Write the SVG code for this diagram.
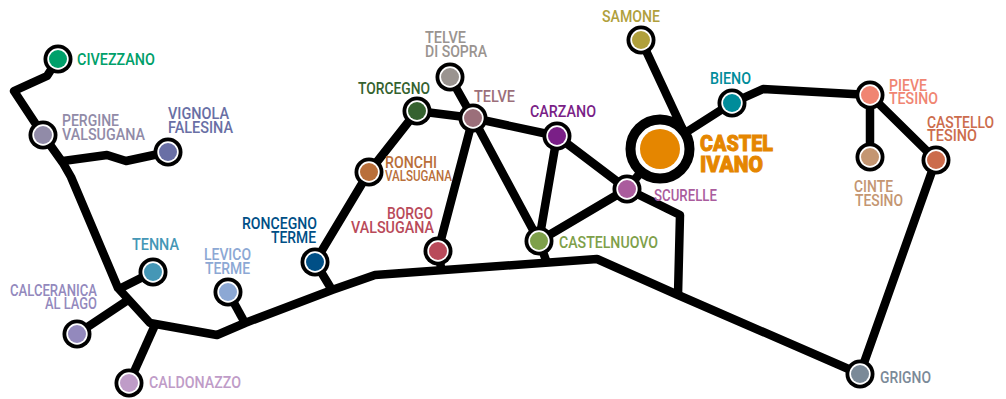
<svg xmlns="http://www.w3.org/2000/svg" width="1006" height="399" viewBox="0 0 1006 399">
<style>
text{font-family:Roboto,"Liberation Sans",sans-serif;font-size:16.4px;font-weight:500}
.l{fill:none;stroke:#000;stroke-width:8.5;stroke-linejoin:round}
.o{fill:#000}.w{fill:#fff}
</style>
<rect width="1006" height="399" fill="#fff"/>
<g id="connectors" class="l">
<path d="M58 59L47 76L14 91L43 135L63 163L71 177L118 288L150 323L217 335L245 323L332 290L375 275L597 259L678 295L860 374L936 160L870 95L763 89L732 103L660 149"/>
<path d="M63 161L107 155L126 161L168 152"/>
<path d="M153 272L119 289"/>
<path d="M77 334L128 300"/>
<path d="M129 383L155 325"/>
<path d="M228 292L245 323"/>
<path d="M332 290L315 262L369 172L417 111L473 118L557 136L627 189L539 241L473 118"/>
<path d="M450 77L473 118L438 251L442 273"/>
<path d="M557 136L539 241L547 263"/>
<path d="M627 189L680 215L678 295"/>
<path d="M641 40L690 145"/>
<path d="M660 149L627 189"/>
<path d="M870 95L870 157"/>
</g>
<g id="castel-ivano"><circle cx="660" cy="149" r="29.5" fill="#fff" stroke="#000" stroke-width="10"/><circle cx="660" cy="149" r="20" fill="#e58600"/><g fill="#e58600" stroke="#e58600" stroke-width="0.9"><text x="700" y="151" textLength="73" lengthAdjust="spacingAndGlyphs" style="font-size:22.5px;font-weight:900">CASTEL</text><text x="700" y="172" textLength="63" lengthAdjust="spacingAndGlyphs" style="font-size:22.5px;font-weight:900">IVANO</text></g></g>
<g id="civezzano"><circle class="o" cx="58" cy="59" r="14.5"/><circle class="w" cx="58" cy="59" r="10.7"/><circle cx="58" cy="59" r="9" fill="#00a06a"/><text fill="#00a06a" x="77" y="65" textLength="78" lengthAdjust="spacingAndGlyphs">CIVEZZANO</text></g>
<g id="pergine"><circle class="o" cx="43" cy="135" r="14.5"/><circle class="w" cx="43" cy="135" r="10.7"/><circle cx="43" cy="135" r="9" fill="#918ba8"/><g fill="#918ba8"><text x="62" y="126" textLength="57" lengthAdjust="spacingAndGlyphs">PERGINE</text><text x="62" y="139.5" textLength="83" lengthAdjust="spacingAndGlyphs">VALSUGANA</text></g></g>
<g id="vignola"><circle class="o" cx="168" cy="152" r="14.5"/><circle class="w" cx="168" cy="152" r="10.7"/><circle cx="168" cy="152" r="9" fill="#696fa5"/><g fill="#696fa5"><text x="168" y="119" textLength="61" lengthAdjust="spacingAndGlyphs">VIGNOLA</text><text x="168" y="133" textLength="65" lengthAdjust="spacingAndGlyphs">FALESINA</text></g></g>
<g id="tenna"><circle class="o" cx="153" cy="272" r="14.5"/><circle class="w" cx="153" cy="272" r="10.7"/><circle cx="153" cy="272" r="9" fill="#4597b6"/><text fill="#4597b6" x="132" y="250" textLength="47" lengthAdjust="spacingAndGlyphs">TENNA</text></g>
<g id="levico"><circle class="o" cx="228" cy="292" r="14.5"/><circle class="w" cx="228" cy="292" r="10.7"/><circle cx="228" cy="292" r="9" fill="#8ca8d4"/><g fill="#8ca8d4"><text x="204" y="260" textLength="47" lengthAdjust="spacingAndGlyphs">LEVICO</text><text x="205" y="274" textLength="45" lengthAdjust="spacingAndGlyphs">TERME</text></g></g>
<g id="roncegno"><circle class="o" cx="315" cy="262" r="14.5"/><circle class="w" cx="315" cy="262" r="10.7"/><circle cx="315" cy="262" r="9" fill="#004f86"/><g fill="#004f86"><text x="242" y="229" textLength="75" lengthAdjust="spacingAndGlyphs">RONCEGNO</text><text x="271" y="243" textLength="45" lengthAdjust="spacingAndGlyphs">TERME</text></g></g>
<g id="calceranica"><circle class="o" cx="77" cy="334" r="14.5"/><circle class="w" cx="77" cy="334" r="10.7"/><circle cx="77" cy="334" r="9" fill="#9389bd"/><g fill="#9389bd"><text x="10" y="296" textLength="87" lengthAdjust="spacingAndGlyphs">CALCERANICA</text><text x="45" y="309" textLength="52" lengthAdjust="spacingAndGlyphs">AL LAGO</text></g></g>
<g id="caldonazzo"><circle class="o" cx="129" cy="383" r="14.5"/><circle class="w" cx="129" cy="383" r="10.7"/><circle cx="129" cy="383" r="9" fill="#bf9cc8"/><text fill="#bf9cc8" x="149" y="388" textLength="92" lengthAdjust="spacingAndGlyphs">CALDONAZZO</text></g>
<g id="ronchi"><circle class="o" cx="369" cy="172" r="14.5"/><circle class="w" cx="369" cy="172" r="10.7"/><circle cx="369" cy="172" r="9" fill="#b96f3a"/><g fill="#b96f3a"><text x="385" y="168" textLength="52" lengthAdjust="spacingAndGlyphs">RONCHI</text><text x="385" y="181" textLength="67" lengthAdjust="spacingAndGlyphs" style="font-size:15px">VALSUGANA</text></g></g>
<g id="torcegno"><circle class="o" cx="417" cy="111" r="14.5"/><circle class="w" cx="417" cy="111" r="10.7"/><circle cx="417" cy="111" r="9" fill="#35622f"/><text fill="#35622f" x="358" y="94" textLength="72" lengthAdjust="spacingAndGlyphs">TORCEGNO</text></g>
<g id="telve-di-sopra"><circle class="o" cx="450" cy="77" r="14.5"/><circle class="w" cx="450" cy="77" r="10.7"/><circle cx="450" cy="77" r="9" fill="#9a9490"/><g fill="#9a9490"><text x="425" y="43" textLength="41" lengthAdjust="spacingAndGlyphs">TELVE</text><text x="425" y="57" textLength="62" lengthAdjust="spacingAndGlyphs">DI SOPRA</text></g></g>
<g id="telve"><circle class="o" cx="473" cy="118" r="14.5"/><circle class="w" cx="473" cy="118" r="10.7"/><circle cx="473" cy="118" r="9" fill="#9b6f7a"/><text fill="#9b6f7a" x="474" y="102" textLength="41" lengthAdjust="spacingAndGlyphs">TELVE</text></g>
<g id="carzano"><circle class="o" cx="557" cy="136" r="14.5"/><circle class="w" cx="557" cy="136" r="10.7"/><circle cx="557" cy="136" r="9" fill="#7a1f87"/><text fill="#7a1f87" x="530" y="117" textLength="66" lengthAdjust="spacingAndGlyphs">CARZANO</text></g>
<g id="borgo"><circle class="o" cx="438" cy="251" r="14.5"/><circle class="w" cx="438" cy="251" r="10.7"/><circle cx="438" cy="251" r="9" fill="#b94a5a"/><g fill="#b94a5a"><text x="387" y="219" textLength="46" lengthAdjust="spacingAndGlyphs">BORGO</text><text x="351" y="233" textLength="83" lengthAdjust="spacingAndGlyphs">VALSUGANA</text></g></g>
<g id="castelnuovo"><circle class="o" cx="539" cy="241" r="14.5"/><circle class="w" cx="539" cy="241" r="10.7"/><circle cx="539" cy="241" r="9" fill="#7ea04a"/><text fill="#7ea04a" x="559" y="248" textLength="99" lengthAdjust="spacingAndGlyphs">CASTELNUOVO</text></g>
<g id="scurelle"><circle class="o" cx="627" cy="189" r="14.5"/><circle class="w" cx="627" cy="189" r="10.7"/><circle cx="627" cy="189" r="9" fill="#aa5c9d"/><text fill="#aa5c9d" x="654" y="201" textLength="63" lengthAdjust="spacingAndGlyphs">SCURELLE</text></g>
<g id="samone"><circle class="o" cx="641" cy="40" r="14.5"/><circle class="w" cx="641" cy="40" r="10.7"/><circle cx="641" cy="40" r="9" fill="#b0a03c"/><text fill="#b0a03c" x="602" y="22" textLength="58" lengthAdjust="spacingAndGlyphs">SAMONE</text></g>
<g id="bieno"><circle class="o" cx="732" cy="103" r="14.5"/><circle class="w" cx="732" cy="103" r="10.7"/><circle cx="732" cy="103" r="9" fill="#008c9a"/><text fill="#008c9a" x="710" y="84" textLength="41" lengthAdjust="spacingAndGlyphs">BIENO</text></g>
<g id="pieve"><circle class="o" cx="870" cy="95" r="14.5"/><circle class="w" cx="870" cy="95" r="10.7"/><circle cx="870" cy="95" r="9" fill="#f08572"/><g fill="#f08572"><text x="889" y="91" textLength="38" lengthAdjust="spacingAndGlyphs">PIEVE</text><text x="889" y="104" textLength="49" lengthAdjust="spacingAndGlyphs">TESINO</text></g></g>
<g id="cinte"><circle class="o" cx="870" cy="157" r="14.5"/><circle class="w" cx="870" cy="157" r="10.7"/><circle cx="870" cy="157" r="9" fill="#c49672"/><g fill="#c49672"><text x="854" y="192" textLength="39" lengthAdjust="spacingAndGlyphs">CINTE</text><text x="855" y="206" textLength="48" lengthAdjust="spacingAndGlyphs">TESINO</text></g></g>
<g id="castello"><circle class="o" cx="936" cy="160" r="14.5"/><circle class="w" cx="936" cy="160" r="10.7"/><circle cx="936" cy="160" r="9" fill="#cc6c4c"/><g fill="#cc6c4c"><text x="927" y="128" textLength="67" lengthAdjust="spacingAndGlyphs">CASTELLO</text><text x="927" y="141" textLength="50" lengthAdjust="spacingAndGlyphs">TESINO</text></g></g>
<g id="grigno"><circle class="o" cx="860" cy="374" r="14.5"/><circle class="w" cx="860" cy="374" r="10.7"/><circle cx="860" cy="374" r="9" fill="#7b8a98"/><text fill="#7b8a98" x="880" y="383" textLength="51" lengthAdjust="spacingAndGlyphs">GRIGNO</text></g>
</svg>
